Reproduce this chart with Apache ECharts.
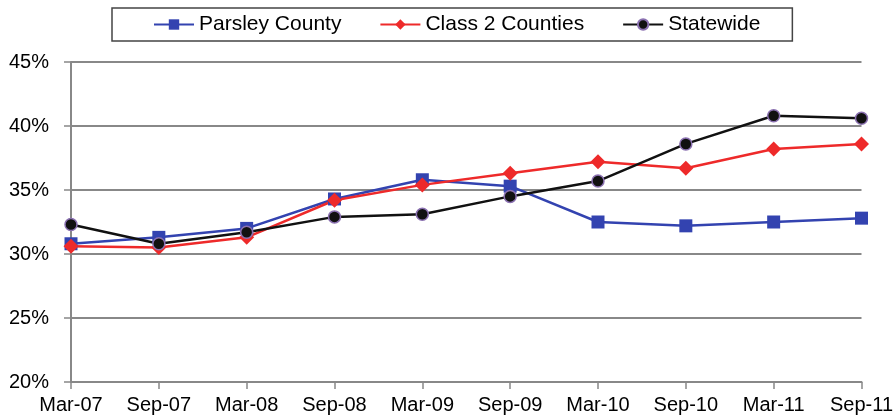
<!DOCTYPE html>
<html>
<head>
<meta charset="UTF-8">
<title>Chart</title>
<script src="https://cdn.jsdelivr.net/npm/echarts@6/dist/echarts.min.js"></script>
<style>
  html, body { margin: 0; padding: 0; background: #fff; }
  #main { width: 896px; height: 416px; }
</style>
</head>
<body>
<div id="main"></div>
<script>
var categories = ['Mar-07', 'Sep-07', 'Mar-08', 'Sep-08', 'Mar-09', 'Sep-09', 'Mar-10', 'Sep-10', 'Mar-11', 'Sep-11'];
var parsley = [30.8, 31.3, 32.0, 34.3, 35.8, 35.3, 32.5, 32.2, 32.5, 32.8];
var class2 = [30.6, 30.5, 31.3, 34.2, 35.4, 36.3, 37.2, 36.7, 38.2, 38.6];
var statewide = [32.3, 30.8, 31.7, 32.9, 33.1, 34.5, 35.7, 38.6, 40.8, 40.6];

var myChart = echarts.init(document.getElementById('main'));
var font = 'Liberation Sans, Arial, sans-serif';

var option = {
    animation: false,
    backgroundColor: '#fff',
    legend: {
        left: 112,
        top: 8,
        padding: [6, 32, 6, 41],
        itemGap: 38,
        itemWidth: 40,
        itemHeight: 13,
        borderColor: '#444',
        borderWidth: 1.5,
        textStyle: { fontFamily: font, fontSize: 21, color: '#000' },
        data: ['Parsley County', 'Class 2 Counties', 'Statewide']
    },
    grid: { left: 71, right: 34, top: 62, bottom: 34 },
    xAxis: {
        type: 'category',
        boundaryGap: false,
        data: categories,
        axisLine: { lineStyle: { color: '#888', width: 2 } },
        axisTick: { alignWithLabel: true, length: 7, lineStyle: { color: '#888', width: 1.5 } },
        axisLabel: { fontFamily: font, fontSize: 20, color: '#000', margin: 13 }
    },
    yAxis: {
        type: 'value',
        min: 20,
        max: 45,
        interval: 5,
        axisLine: { show: true, lineStyle: { color: '#888', width: 2 } },
        axisTick: { show: true, length: 7, lineStyle: { color: '#888', width: 1.5 } },
        axisLabel: { fontFamily: font, fontSize: 20, color: '#000', margin: 22, formatter: '{value}%' },
        splitLine: { lineStyle: { color: '#888', width: 2 } }
    },
    series: [
        {
            name: 'Parsley County',
            type: 'line',
            data: parsley,
            symbol: 'rect',
            symbolSize: 13,
            color: '#3343b0',
            lineStyle: { width: 2.5 },
            itemStyle: { color: '#3343b0' }
        },
        {
            name: 'Class 2 Counties',
            type: 'line',
            data: class2,
            symbol: 'diamond',
            symbolSize: 15,
            color: '#ee2a2a',
            lineStyle: { width: 2.5 },
            itemStyle: { color: '#ee2a2a' }
        },
        {
            name: 'Statewide',
            type: 'line',
            data: statewide,
            symbol: 'circle',
            symbolSize: 12,
            color: '#111',
            lineStyle: { width: 2.5 },
            itemStyle: { color: '#111', borderColor: '#8a70b0', borderWidth: 1.5 }
        }
    ]
};
myChart.setOption(option);
</script>
</body>
</html>
